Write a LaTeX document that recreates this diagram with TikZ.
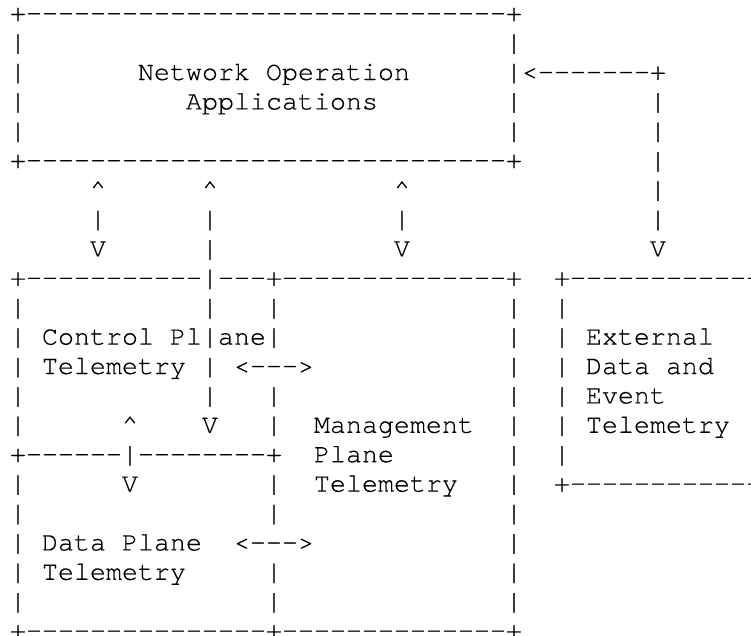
\documentclass[tikz,border=0pt]{standalone}
\usepackage{fontspec}
\setmonofont{texgyrecursor-regular.otf}[FakeBold=0.4]
\usetikzlibrary{positioning}

\ExplSyntaxOn
\cs_new:Npn \repchar #1#2 { \prg_replicate:nn {#1} {#2} }
\ExplSyntaxOff
\newcommand\blank[1]{\repchar{#1}{~}}
\newcommand\dashes[1]{\repchar{#1}{-}}
\newcommand\caret{\textasciicircum}

\begin{document}
\begin{tikzpicture}[x=8pt,y=-14.7pt,
    ascii/.style={anchor=base west,inner sep=0pt,outer sep=0pt,
        font=\ttfamily\fontsize{13.333pt}{14.7pt}\selectfont}]

    % page size of the sketch
    \useasboundingbox (-0.625,0.279) rectangle (46.3125,21.878);

    %top box: network operation applications
    \node[ascii] (row1) at (0,1) {+\dashes{30}+};
    \node[ascii] (row2) at (0,2) {|\blank{30}|};
    \node[ascii] (row3) at (0,3) {|\blank{7}Network Operation\blank{6}|<\dashes{7}+};
    \node[ascii] (row4) at (0,4) {|\blank{10}Applications\blank{8}|\blank{8}|};
    \node[ascii] (row5) at (0,5) {|\blank{30}|\blank{8}|};
    \node[ascii] (row6) at (0,6) {+\dashes{30}+\blank{8}|};

    %arrows between the layers
    \node[ascii] (row7) at (5,7) {\caret\blank{6}\caret\blank{11}\caret\blank{15}|};
    \node[ascii] (row8) at (5,8) {|\blank{6}|\blank{11}|\blank{15}|};
    \node[ascii] (row9) at (5,9) {V\blank{6}|\blank{11}V\blank{15}V};

    %telemetry boxes
    \node[ascii] (row10) at (0,10) {+\dashes{11}|\dashes{3}+\dashes{14}+\blank{2}+\dashes{12}};
    \node[ascii] (row11) at (0,11) {|\blank{11}|\blank{3}|\blank{14}|\blank{2}|};
    \node[ascii] (row12) at (0,12) {|\blank{1}Control Pl|ane|\blank{14}|\blank{2}|\blank{1}External};
    \node[ascii] (row13) at (0,13) {|\blank{1}Telemetry\blank{1}|\blank{1}<\dashes{3}>\blank{12}|\blank{2}|\blank{1}Data and};
    \node[ascii] (row14) at (0,14) {|\blank{11}|\blank{3}|\blank{14}|\blank{2}|\blank{1}Event};
    \node[ascii] (row15) at (0,15) {|\blank{6}\caret\blank{4}V\blank{3}|\blank{2}Management\blank{2}|\blank{2}|\blank{1}Telemetry};
    \node[ascii] (row16) at (0,16) {+\dashes{6}|\dashes{8}+\blank{2}Plane\blank{7}|\blank{2}|};
    \node[ascii] (row17) at (0,17) {|\blank{6}V\blank{8}|\blank{2}Telemetry\blank{3}|\blank{2}+\dashes{12}};
    \node[ascii] (row18) at (0,18) {|\blank{15}|\blank{14}|};
    \node[ascii] (row19) at (0,19) {|\blank{1}Data Plane\blank{2}<\dashes{3}>\blank{12}|};
    \node[ascii] (row20) at (0,20) {|\blank{1}Telemetry\blank{5}|\blank{14}|};
    \node[ascii] (row21) at (0,21) {|\blank{15}|\blank{14}|};
    \node[ascii] (row22) at (0,22) {+\dashes{15}+\dashes{14}+};
\end{tikzpicture}
\end{document}
